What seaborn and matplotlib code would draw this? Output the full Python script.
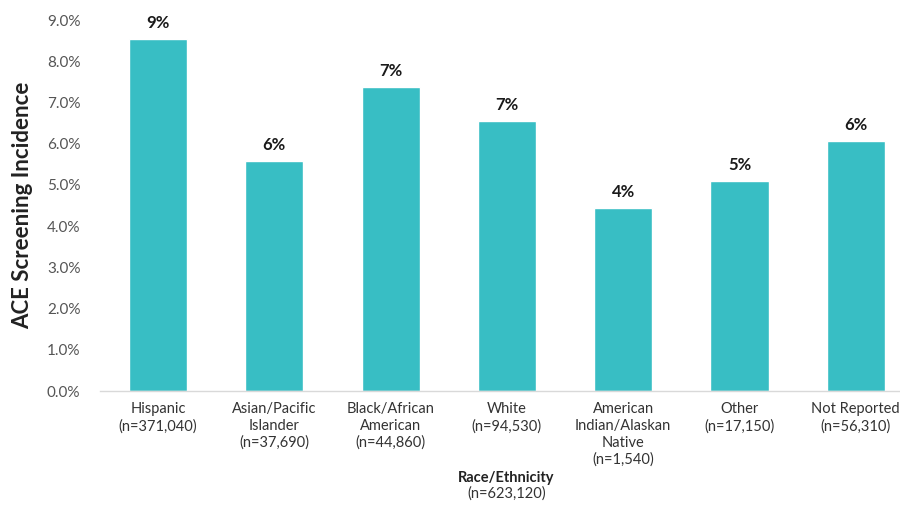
import pandas as pd
import seaborn as sns
import matplotlib.pyplot as plt
from matplotlib.ticker import FuncFormatter

groups = ["Hispanic", "Asian/Pacific\nIslander", "Black/African\nAmerican", "White",
          "American\nIndian/Alaskan\nNative", "Other", "Not Reported"]
counts = ["371,040", "37,690", "44,860", "94,530", "1,540", "17,150", "56,310"]
incidence = [8.54, 5.58, 7.38, 6.55, 4.44, 5.10, 6.07]
total_n = "623,120"

BAR = "#38bec4"
FONT = ["Lato", "DejaVu Sans"]

sns.set_theme(style="white")
plt.rcParams["font.family"] = FONT

df = pd.DataFrame({
    "label": [f"{g}\n(n={c})" for g, c in zip(groups, counts)],
    "incidence": incidence,
})

fig = plt.figure(figsize=(9, 5.08), dpi=100)
ax = fig.add_axes([0.111, 0.2303, 0.889, 0.7303])

sns.barplot(data=df, x="label", y="incidence", color=BAR, width=0.5,
            saturation=1, ax=ax)

for i, v in enumerate(incidence):
    ax.text(i, v + 0.2, f"{round(v)}%", ha="center", va="bottom",
            fontsize=12, fontweight="bold", color="#1a1a1a")

ax.set_ylim(0, 9)
ax.set_xlim(-0.5, 6.38)
ax.set_yticks(range(0, 10))
ax.yaxis.set_major_formatter(FuncFormatter(lambda v, p: f"{v:.1f}%"))
ax.tick_params(axis="y", labelsize=11, labelcolor="#555555", length=0, pad=14)
ax.tick_params(axis="x", labelsize=10.5, labelcolor="#333333", length=0, pad=8)
ax.set_xticks(range(len(df)))
ax.set_xticklabels(df["label"], linespacing=1.25)

for s in ["top", "right", "left"]:
    ax.spines[s].set_visible(False)
ax.spines["bottom"].set_color("#d9d9d9")
ax.spines["bottom"].set_linewidth(1)

ax.set_xlabel("")
ax.set_ylabel("ACE Screening Incidence", fontsize=16, fontweight="bold",
              color="#222222", labelpad=10)

fig.text(0.5625, 1 - 478 / 508, "Race/Ethnicity", ha="center", va="center",
         fontsize=10.5, fontweight="bold", color="#222222")
fig.text(0.5625, 1 - 494 / 508, f"(n={total_n})", ha="center", va="center",
         fontsize=10.5, color="#333333")

fig.savefig("out.png", dpi=100)
